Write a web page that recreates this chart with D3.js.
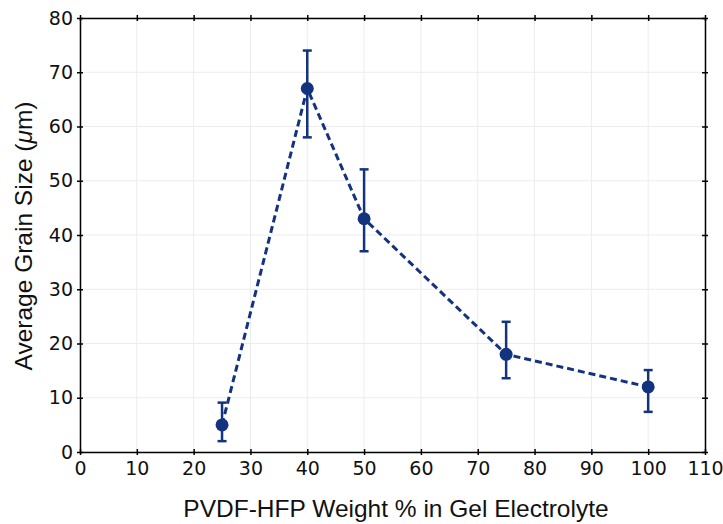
<!DOCTYPE html>
<html>
<head>
<meta charset="utf-8">
<script src="https://cdn.jsdelivr.net/npm/d3@7"></script>
<style>
  html, body { margin: 0; padding: 0; background: #fff; }
  svg { display: block; font-family: "Liberation Sans", Arial, Helvetica, sans-serif; }
</style>
</head>
<body>
<svg id="chart" width="723" height="524"></svg>
<script>
// Grain size versus PVDF-HFP content
const weights   = [25, 40, 50, 75, 100];
const grainSize = [5, 67, 43, 18, 12];
const errLow    = [2, 58, 37, 13.6, 7.4];
const errHigh   = [9.1, 74, 52.1, 24, 15.1];
const xTicks = [0, 10, 20, 30, 40, 50, 60, 70, 80, 90, 100, 110];
const yTicks = [0, 10, 20, 30, 40, 50, 60, 70, 80];

const color = "#14337f";
const margin = { left: 80, right: 18, top: 18, bottom: 72 };
const W = 723, H = 524;

const svg = d3.select("#chart");
const x = d3.scaleLinear().domain([0, 110]).range([margin.left, W - margin.right]);
const y = d3.scaleLinear().domain([0, 80]).range([H - margin.bottom, margin.top]);

// grid
const grid = svg.append("g");
grid.selectAll("line.v").data(xTicks).join("line")
  .attr("x1", d => x(d)).attr("x2", d => x(d))
  .attr("y1", y(0)).attr("y2", y(80))
  .attr("stroke", "#ececec").attr("stroke-width", 1);
grid.selectAll("line.h").data(yTicks).join("line")
  .attr("x1", x(0)).attr("x2", x(110))
  .attr("y1", d => y(d)).attr("y2", d => y(d))
  .attr("stroke", "#ececec").attr("stroke-width", 1);

// axes with ticks crossing the frame
function styleAxis(g) {
  g.select(".domain").attr("stroke", "#000").attr("stroke-width", 1.5);
  g.selectAll(".tick line").attr("stroke", "#000").attr("stroke-width", 1.5);
  g.selectAll(".tick text")
    .attr("font-family", "'DejaVu Sans', sans-serif")
    .attr("font-size", 19).attr("fill", "#111");
}
const axBottom = svg.append("g").attr("transform", `translate(0,${y(0)})`)
  .call(d3.axisBottom(x).tickValues(xTicks).tickSizeInner(3).tickSizeOuter(0).tickPadding(6.5));
axBottom.selectAll(".tick line").attr("y1", -3);
styleAxis(axBottom);

const axLeft = svg.append("g").attr("transform", `translate(${x(0)},0)`)
  .call(d3.axisLeft(y).tickValues(yTicks).tickSizeInner(3).tickSizeOuter(0).tickPadding(4));
axLeft.selectAll(".tick line").attr("x1", 3);
styleAxis(axLeft);

const axTop = svg.append("g").attr("transform", `translate(0,${y(80)})`)
  .call(d3.axisTop(x).tickValues(xTicks).tickSizeInner(3).tickSizeOuter(0).tickFormat(""));
axTop.selectAll(".tick line").attr("y1", 3);
styleAxis(axTop);

const axRight = svg.append("g").attr("transform", `translate(${x(110)},0)`)
  .call(d3.axisRight(y).tickValues(yTicks).tickSizeInner(3).tickSizeOuter(0).tickFormat(""));
axRight.selectAll(".tick line").attr("x1", -3);
styleAxis(axRight);

// data
const data = weights.map((w, i) => ({ w, v: grainSize[i], lo: errLow[i], hi: errHigh[i] }));

svg.append("path").datum(data)
  .attr("fill", "none").attr("stroke", color).attr("stroke-width", 3)
  .attr("stroke-dasharray", "7,4")
  .attr("d", d3.line().x(d => x(d.w)).y(d => y(d.v)));

const eb = svg.append("g").attr("stroke", color).attr("stroke-width", 2.5);
eb.selectAll("line.bar").data(data).join("line")
  .attr("x1", d => x(d.w)).attr("x2", d => x(d.w))
  .attr("y1", d => y(d.lo)).attr("y2", d => y(d.hi));
eb.selectAll("line.capHi").data(data).join("line")
  .attr("x1", d => x(d.w) - 4.5).attr("x2", d => x(d.w) + 4.5)
  .attr("y1", d => y(d.hi)).attr("y2", d => y(d.hi));
eb.selectAll("line.capLo").data(data).join("line")
  .attr("x1", d => x(d.w) - 4.5).attr("x2", d => x(d.w) + 4.5)
  .attr("y1", d => y(d.lo)).attr("y2", d => y(d.lo));

svg.append("g").selectAll("circle").data(data).join("circle")
  .attr("cx", d => x(d.w)).attr("cy", d => y(d.v)).attr("r", 6.5)
  .attr("fill", color);

// titles
svg.append("text")
  .attr("x", 396).attr("y", 517)
  .attr("text-anchor", "middle").attr("font-size", 24.5).attr("fill", "#111")
  .text("PVDF-HFP Weight % in Gel Electrolyte");

const yt = svg.append("text")
  .attr("transform", `translate(32,236) rotate(-90)`)
  .attr("text-anchor", "middle").attr("font-size", 24.5).attr("fill", "#111");
yt.append("tspan").text("Average Grain Size (");
yt.append("tspan").attr("font-style", "italic").text("μ");
yt.append("tspan").text("m)");
</script>
</body>
</html>
